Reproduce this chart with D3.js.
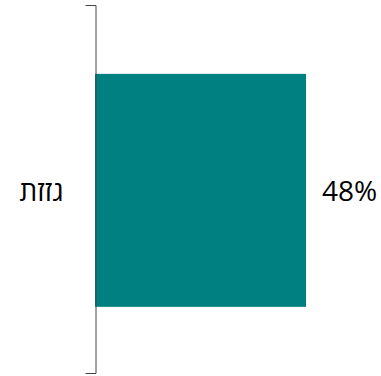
<!DOCTYPE html>
<html>
<head>
<meta charset="utf-8">
<script src="https://cdn.jsdelivr.net/npm/d3@7"></script>
<style>
  html, body { margin: 0; padding: 0; background: #fff; }
  svg { display: block; }
  text { font-family: "Open Sans", "Noto Sans", "DejaVu Sans", sans-serif; }
</style>
</head>
<body>
<script>
// Single-category horizontal bar
const categories = ["גזזת"];
const values = [48];
const valueLabels = ["48%"];

const width = 381, height = 376;
const axisX = 95;

const svg = d3.select("body").append("svg")
  .attr("width", width)
  .attr("height", height);

const x = d3.scaleLinear()
  .domain([0, 60])
  .range([axisX, axisX + 211 / 48 * 60]);

const y = d3.scaleBand()
  .domain(categories)
  .range([5, 373])
  .padding(0.2247)
  .align(0.51);

// bars
svg.append("g")
  .selectAll("rect")
  .data(categories)
  .join("rect")
  .attr("x", x(0))
  .attr("y", d => y(d))
  .attr("width", (d, i) => x(values[i]) - x(0))
  .attr("height", y.bandwidth())
  .attr("fill", "#008080");

// value labels
svg.append("g")
  .selectAll("text")
  .data(categories)
  .join("text")
  .attr("x", (d, i) => x(values[i]) + 16)
  .attr("y", d => y(d) + y.bandwidth() / 2)
  .attr("dy", "0.38em")
  .attr("font-size", 28)
  .attr("fill", "#000")
  .text((d, i) => valueLabels[i]);

// category axis
const axis = svg.append("g")
  .attr("transform", `translate(${axisX + 0.5},0)`)
  .call(d3.axisLeft(y).tickSize(0).tickSizeOuter(10).tickPadding(32));

axis.select(".domain").attr("stroke", "#444");
axis.selectAll(".tick text")
  .attr("font-size", 28)
  .attr("dy", "0.38em")
  .attr("font-family", "\"Open Sans\", \"Noto Sans\", \"DejaVu Sans\", sans-serif")
  .attr("fill", "#000");
</script>
</body>
</html>
